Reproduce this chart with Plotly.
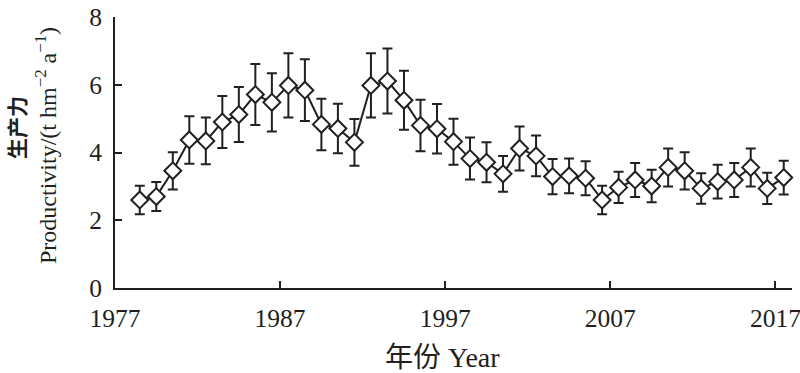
import plotly.graph_objects as go

years = list(range(1978, 2018))
productivity = [2.60, 2.70, 3.46, 4.37, 4.34, 4.90, 5.12, 5.71, 5.48, 5.98,
                5.84, 4.83, 4.71, 4.30, 5.98, 6.11, 5.54, 4.80, 4.70, 4.32,
                3.82, 3.71, 3.37, 4.12, 3.90, 3.29, 3.31, 3.24, 2.60, 2.97,
                3.19, 3.01, 3.56, 3.46, 2.94, 3.14, 3.19, 3.56, 2.94, 3.26]
errors = [0.42, 0.43, 0.55, 0.70, 0.69, 0.77, 0.81, 0.90, 0.86, 0.95,
          0.91, 0.76, 0.73, 0.69, 0.95, 0.96, 0.87, 0.76, 0.73, 0.68,
          0.62, 0.59, 0.53, 0.65, 0.60, 0.52, 0.51, 0.50, 0.42, 0.46,
          0.50, 0.48, 0.56, 0.55, 0.45, 0.50, 0.50, 0.56, 0.46, 0.50]
tick_years = [1977, 1987, 1997, 2007, 2017]
y_ticks = [0, 2, 4, 6, 8]

INK = "#231f20"
W, H = 800, 373
L, R, T, B = 115, 8, 17, 85
pw, ph = W - L - R, H - T - B

def px_x(px):
    return (px - L) / pw

def px_y(py):
    return (H - B - py) / ph

fig = go.Figure()
fig.add_trace(go.Scatter(
    x=years, y=productivity,
    mode="lines+markers",
    line=dict(color=INK, width=2),
    marker=dict(symbol="diamond", size=13, color="white",
                line=dict(color=INK, width=2)),
    error_y=dict(type="data", array=errors, visible=True,
                 color=INK, thickness=2, width=5),
    showlegend=False,
    cliponaxis=False,
))

fig.update_layout(
    width=W, height=H,
    margin=dict(l=L, r=R, t=T, b=B, autoexpand=False),
    plot_bgcolor="white", paper_bgcolor="white",
    font=dict(family="Liberation Serif", color=INK, size=25.5),
    xaxis=dict(
        range=[1976.5, 2017.5],
        tickvals=[t - 0.5 for t in tick_years],
        ticktext=[str(t) for t in tick_years],
        ticks="inside", ticklen=7, tickwidth=2, tickcolor=INK,
        showline=True, linecolor=INK, linewidth=2,
        showgrid=False, zeroline=False, automargin=False,
        ticklabeloverflow="allow", ticklabelstandoff=6,
        tickfont=dict(family="Liberation Serif", size=25.5, color=INK),
    ),
    yaxis=dict(
        range=[0, 8],
        tickvals=y_ticks,
        ticks="inside", ticklen=7, tickwidth=2, tickcolor=INK,
        showline=True, linecolor=INK, linewidth=2,
        showgrid=False, zeroline=False, automargin=False,
        ticklabeloverflow="allow",
        tickfont=dict(family="Liberation Serif", size=25.5, color=INK),
        ticklabelstandoff=6,
    ),
)

fig.add_annotation(
    text="<span style='font-family:Noto Sans CJK SC'>年份</span> Year",
    xref="paper", yref="paper", x=px_x(442), y=px_y(355),
    showarrow=False, xanchor="center", yanchor="middle",
    font=dict(family="Liberation Serif", size=28, color=INK),
)
fig.add_annotation(
    text="生产力",
    xref="paper", yref="paper", x=px_x(16), y=px_y(128),
    showarrow=False, xanchor="center", yanchor="middle", textangle=-90,
    font=dict(family="Noto Sans CJK SC", size=21, color=INK, weight="bold"),
)
fig.add_annotation(
    text="Productivity/(t hm<sup>−2</sup> a<sup>−1</sup>)",
    xref="paper", yref="paper", x=px_x(46), y=px_y(146),
    showarrow=False, xanchor="center", yanchor="middle", textangle=-90,
    font=dict(family="Liberation Serif", size=24, color=INK),
)

fig.write_html(
    "out.html",
    config={"displayModeBar": False},
    post_script="document.body.style.margin='0';document.body.style.overflow='hidden';",
)
